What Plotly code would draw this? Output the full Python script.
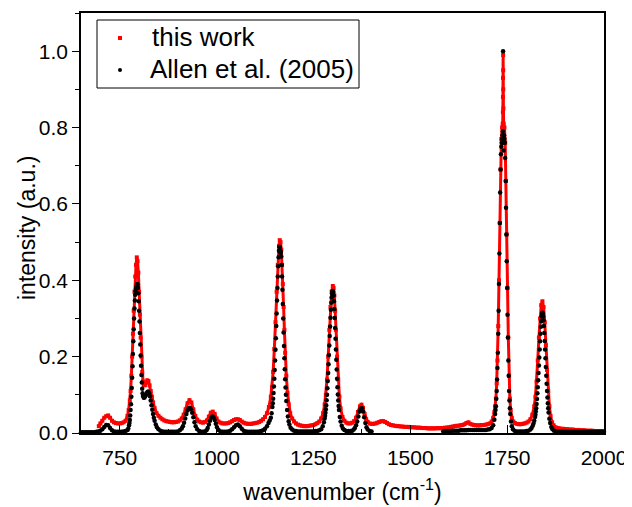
import plotly.graph_objects as go

# "this work" spectrum: (wavenumber cm^-1, normalised intensity)
this_work = [
    (696, 0.018), (700, 0.025), (705, 0.032), (710, 0.040), (715, 0.044), (720, 0.046), (725, 0.040),
    (730, 0.032), (735, 0.028), (740, 0.026), (745, 0.025), (750, 0.025), (755, 0.026), (760, 0.028),
    (765, 0.032), (770, 0.045), (773, 0.060), (776, 0.085), (778, 0.110), (780, 0.150), (782, 0.200),
    (784, 0.260), (786, 0.320), (788, 0.370), (790, 0.410), (792, 0.440), (794, 0.460), (796, 0.450),
    (798, 0.420), (800, 0.370), (802, 0.310), (804, 0.250), (806, 0.200), (808, 0.160), (810, 0.135),
    (812, 0.125), (815, 0.125), (818, 0.132), (821, 0.138), (824, 0.136), (827, 0.125), (830, 0.110),
    (833, 0.095), (836, 0.080), (840, 0.065), (845, 0.052), (850, 0.045), (855, 0.040), (860, 0.036),
    (865, 0.033), (870, 0.031), (875, 0.030), (880, 0.029), (885, 0.028), (890, 0.028), (895, 0.029),
    (900, 0.030), (905, 0.033), (910, 0.038), (915, 0.048), (920, 0.062), (925, 0.078), (930, 0.086),
    (935, 0.080), (940, 0.062), (945, 0.045), (950, 0.035), (955, 0.030), (960, 0.028), (965, 0.027),
    (970, 0.029), (975, 0.033), (980, 0.043), (985, 0.053), (990, 0.056), (995, 0.050), (1000, 0.038),
    (1005, 0.030), (1010, 0.027), (1015, 0.025), (1020, 0.025), (1025, 0.025), (1030, 0.026),
    (1035, 0.028), (1040, 0.031), (1045, 0.034), (1050, 0.036), (1055, 0.036), (1060, 0.034),
    (1065, 0.030), (1070, 0.027), (1075, 0.025), (1080, 0.024), (1085, 0.024), (1090, 0.024),
    (1095, 0.025), (1100, 0.026), (1105, 0.027), (1110, 0.029), (1115, 0.032), (1120, 0.036),
    (1125, 0.042), (1130, 0.052), (1135, 0.068), (1140, 0.095), (1143, 0.120), (1146, 0.160),
    (1149, 0.220), (1152, 0.290), (1155, 0.370), (1158, 0.440), (1161, 0.490), (1163, 0.505),
    (1165, 0.500), (1167, 0.480), (1169, 0.440), (1171, 0.390), (1173, 0.330), (1175, 0.270),
    (1177, 0.210), (1180, 0.150), (1183, 0.105), (1186, 0.075), (1190, 0.052), (1195, 0.038),
    (1200, 0.030), (1205, 0.025), (1210, 0.022), (1215, 0.020), (1220, 0.019), (1225, 0.018),
    (1230, 0.018), (1235, 0.018), (1240, 0.019), (1245, 0.020), (1250, 0.021), (1255, 0.023),
    (1260, 0.026), (1265, 0.030), (1270, 0.038), (1275, 0.052), (1279, 0.075), (1282, 0.100),
    (1285, 0.140), (1288, 0.200), (1291, 0.270), (1294, 0.330), (1297, 0.370), (1300, 0.385),
    (1302, 0.380), (1304, 0.360), (1306, 0.320), (1308, 0.270), (1311, 0.200), (1314, 0.140),
    (1317, 0.095), (1320, 0.065), (1325, 0.042), (1330, 0.032), (1335, 0.027), (1340, 0.025),
    (1345, 0.025), (1350, 0.027), (1355, 0.031), (1360, 0.040), (1365, 0.055), (1370, 0.070),
    (1374, 0.074), (1378, 0.066), (1382, 0.050), (1386, 0.036), (1390, 0.029), (1395, 0.025),
    (1400, 0.024), (1405, 0.024), (1410, 0.025), (1415, 0.027), (1420, 0.029), (1425, 0.031),
    (1430, 0.031), (1435, 0.029), (1440, 0.026), (1445, 0.023), (1450, 0.021), (1455, 0.020),
    (1460, 0.019), (1465, 0.018), (1470, 0.018), (1475, 0.017), (1480, 0.017), (1485, 0.016),
    (1490, 0.016), (1495, 0.016), (1500, 0.015), (1505, 0.015), (1510, 0.015), (1515, 0.014),
    (1520, 0.014), (1525, 0.014), (1530, 0.013), (1535, 0.013), (1540, 0.013), (1545, 0.012),
    (1550, 0.012), (1555, 0.012), (1560, 0.012), (1565, 0.012), (1570, 0.013), (1575, 0.012),
    (1580, 0.013), (1585, 0.013), (1590, 0.014), (1595, 0.014), (1600, 0.015), (1605, 0.016),
    (1610, 0.017), (1615, 0.018), (1620, 0.019), (1625, 0.019), (1630, 0.020), (1635, 0.021),
    (1640, 0.023), (1645, 0.026), (1650, 0.028), (1655, 0.024), (1660, 0.022), (1665, 0.021),
    (1670, 0.020), (1675, 0.020), (1680, 0.020), (1685, 0.021), (1690, 0.021), (1695, 0.022),
    (1700, 0.023), (1705, 0.025), (1710, 0.030), (1714, 0.040), (1717, 0.055), (1719, 0.070),
    (1721, 0.090), (1723, 0.130), (1725, 0.190), (1727, 0.280), (1729, 0.400), (1731, 0.550),
    (1733, 0.690), (1735, 0.770), (1737, 0.800), (1738.5, 0.810), (1739, 0.840), (1739.2, 0.880),
    (1739.4, 0.930), (1739.6, 0.990), (1739.8, 0.950), (1740, 0.900), (1740.3, 0.850), (1741, 0.810),
    (1743, 0.800), (1745, 0.760), (1747, 0.660), (1749, 0.520), (1751, 0.380), (1753, 0.250),
    (1755, 0.150), (1757, 0.090), (1759, 0.060), (1762, 0.040), (1766, 0.030), (1770, 0.026),
    (1775, 0.024), (1780, 0.023), (1785, 0.023), (1790, 0.024), (1795, 0.025), (1800, 0.027),
    (1805, 0.030), (1810, 0.036), (1815, 0.048), (1820, 0.070), (1823, 0.095), (1826, 0.135),
    (1829, 0.190), (1832, 0.250), (1835, 0.300), (1838, 0.335), (1841, 0.345), (1844, 0.330),
    (1847, 0.290), (1850, 0.230), (1853, 0.165), (1856, 0.110), (1859, 0.070), (1862, 0.045),
    (1866, 0.028), (1870, 0.020), (1875, 0.015), (1880, 0.013), (1885, 0.012), (1890, 0.011),
    (1895, 0.011), (1900, 0.010), (1905, 0.010), (1910, 0.009), (1915, 0.009), (1920, 0.009),
    (1925, 0.008), (1930, 0.008), (1935, 0.008), (1940, 0.007), (1945, 0.007), (1950, 0.007),
    (1955, 0.006), (1960, 0.006), (1965, 0.006), (1970, 0.006), (1975, 0.005), (1980, 0.005),
    (1985, 0.005), (1990, 0.005), (1995, 0.005), (2000, 0.005),
]

# Allen et al. (2005) spectrum (no data between ~1400 and ~1585 cm^-1)
allen_2005 = [
    (650, 0.002), (655, 0.002), (660, 0.002), (665, 0.002), (670, 0.002), (675, 0.002), (680, 0.002),
    (685, 0.002), (690, 0.003), (695, 0.004), (700, 0.006), (705, 0.010), (710, 0.016), (715, 0.021),
    (720, 0.020), (725, 0.013), (730, 0.007), (735, 0.004), (740, 0.003), (745, 0.003), (750, 0.003),
    (755, 0.003), (760, 0.004), (765, 0.005), (770, 0.008), (772, 0.012), (774, 0.020), (775, 0.026),
    (776, 0.034), (777, 0.046), (778, 0.060), (779, 0.075), (780, 0.095), (781, 0.118), (782, 0.145),
    (783, 0.175), (784, 0.207), (785, 0.240), (786, 0.272), (787, 0.300), (788, 0.326), (789, 0.347),
    (790, 0.362), (791, 0.372), (792, 0.378), (793, 0.382), (794, 0.386), (795, 0.390), (796, 0.388),
    (797, 0.380), (798, 0.366), (799, 0.345), (800, 0.320), (801, 0.292), (802, 0.262), (803, 0.232),
    (804, 0.203), (805, 0.176), (806, 0.152), (807, 0.132), (808, 0.116), (809, 0.104), (810, 0.097),
    (812, 0.092), (814, 0.093), (816, 0.097), (818, 0.101), (820, 0.105), (822, 0.108), (824, 0.108),
    (826, 0.104), (828, 0.096), (830, 0.085), (832, 0.073), (834, 0.061), (836, 0.050), (838, 0.040),
    (840, 0.032), (843, 0.022), (846, 0.015), (850, 0.010), (855, 0.006), (860, 0.004), (865, 0.003),
    (870, 0.003), (875, 0.003), (880, 0.003), (885, 0.003), (890, 0.003), (895, 0.003), (900, 0.004),
    (905, 0.007), (910, 0.012), (913, 0.018), (916, 0.027), (919, 0.038), (922, 0.050), (925, 0.059),
    (928, 0.065), (931, 0.066), (934, 0.062), (937, 0.053), (940, 0.041), (943, 0.028), (946, 0.018),
    (950, 0.010), (955, 0.005), (960, 0.003), (965, 0.003), (970, 0.004), (974, 0.007), (977, 0.013),
    (980, 0.022), (983, 0.032), (986, 0.040), (989, 0.043), (992, 0.041), (995, 0.034), (998, 0.024),
    (1001, 0.015), (1005, 0.008), (1010, 0.004), (1015, 0.003), (1020, 0.003), (1025, 0.003),
    (1030, 0.004), (1035, 0.006), (1040, 0.010), (1045, 0.015), (1050, 0.020), (1055, 0.022),
    (1060, 0.018), (1065, 0.011), (1070, 0.006), (1075, 0.004), (1080, 0.003), (1085, 0.003),
    (1090, 0.003), (1095, 0.003), (1100, 0.003), (1105, 0.003), (1110, 0.004), (1115, 0.005),
    (1120, 0.007), (1125, 0.011), (1130, 0.018), (1134, 0.026), (1137, 0.033), (1140, 0.040),
    (1142, 0.052), (1144, 0.068), (1145, 0.078), (1146, 0.090), (1147, 0.105), (1148, 0.122),
    (1149, 0.142), (1150, 0.165), (1151, 0.190), (1152, 0.218), (1153, 0.248), (1154, 0.280),
    (1155, 0.313), (1156, 0.347), (1157, 0.380), (1158, 0.410), (1159, 0.437), (1160, 0.460),
    (1161, 0.477), (1162, 0.487), (1163, 0.488), (1164, 0.478), (1165, 0.470), (1166, 0.474),
    (1167, 0.462), (1168, 0.440), (1169, 0.410), (1170, 0.375), (1171, 0.338), (1172, 0.300),
    (1173, 0.263), (1174, 0.228), (1175, 0.196), (1176, 0.167), (1177, 0.141), (1178, 0.119),
    (1179, 0.100), (1180, 0.084), (1182, 0.060), (1184, 0.043), (1186, 0.031), (1188, 0.022),
    (1191, 0.014), (1195, 0.009), (1200, 0.006), (1205, 0.005), (1210, 0.004), (1215, 0.004),
    (1220, 0.004), (1225, 0.004), (1230, 0.004), (1235, 0.004), (1240, 0.004), (1245, 0.004),
    (1250, 0.004), (1255, 0.005), (1260, 0.005), (1265, 0.007), (1270, 0.010), (1274, 0.018),
    (1277, 0.028), (1279, 0.038), (1280, 0.045), (1281, 0.053), (1282, 0.062), (1283, 0.073),
    (1284, 0.086), (1285, 0.100), (1286, 0.117), (1287, 0.136), (1288, 0.157), (1289, 0.180),
    (1290, 0.204), (1291, 0.229), (1292, 0.254), (1293, 0.279), (1294, 0.302), (1295, 0.323),
    (1296, 0.341), (1297, 0.355), (1298, 0.365), (1299, 0.371), (1300, 0.372), (1301, 0.369),
    (1302, 0.360), (1303, 0.345), (1304, 0.325), (1305, 0.301), (1306, 0.275), (1307, 0.247),
    (1308, 0.219), (1309, 0.192), (1310, 0.166), (1311, 0.142), (1312, 0.120), (1313, 0.101),
    (1314, 0.085), (1315, 0.071), (1316, 0.060), (1318, 0.042), (1320, 0.030), (1323, 0.019),
    (1326, 0.012), (1330, 0.008), (1335, 0.005), (1340, 0.005), (1345, 0.005), (1350, 0.006),
    (1354, 0.009), (1357, 0.013), (1360, 0.020), (1363, 0.030), (1366, 0.043), (1369, 0.056),
    (1372, 0.064), (1375, 0.065), (1378, 0.056), (1381, 0.041), (1384, 0.026), (1387, 0.015),
    (1390, 0.009), (1395, 0.005), (1400, 0.004),
    (1585, 0.004), (1590, 0.005), (1595, 0.005), (1600, 0.005), (1605, 0.005), (1610, 0.006),
    (1615, 0.006), (1620, 0.006), (1625, 0.006), (1630, 0.007), (1635, 0.007), (1640, 0.007),
    (1645, 0.007), (1650, 0.008), (1655, 0.008), (1660, 0.008), (1665, 0.008), (1670, 0.008),
    (1675, 0.008), (1680, 0.008), (1685, 0.008), (1690, 0.008), (1695, 0.008), (1700, 0.009),
    (1705, 0.010), (1710, 0.013), (1714, 0.020), (1717, 0.035), (1719, 0.050), (1720, 0.060),
    (1721, 0.070), (1722, 0.090), (1723, 0.110), (1724, 0.140), (1725, 0.170), (1726, 0.210),
    (1727, 0.260), (1728, 0.320), (1729, 0.390), (1730, 0.470), (1731, 0.550), (1732, 0.630),
    (1733, 0.690), (1734, 0.730), (1735, 0.750), (1736, 0.760), (1737, 0.770), (1738, 0.780),
    (1739, 0.790), (1739.5, 1.000), (1740, 0.760), (1741, 0.740), (1742, 0.780), (1743, 0.770),
    (1744, 0.760), (1745, 0.720), (1746, 0.660), (1747, 0.590), (1748, 0.520), (1749, 0.450),
    (1750, 0.380), (1751, 0.310), (1752, 0.250), (1753, 0.190), (1754, 0.150), (1755, 0.110),
    (1756, 0.085), (1757, 0.065), (1758, 0.050), (1760, 0.030), (1762, 0.018), (1765, 0.010),
    (1769, 0.006), (1774, 0.004), (1780, 0.004), (1785, 0.004), (1790, 0.004), (1795, 0.004),
    (1800, 0.005), (1805, 0.006), (1810, 0.009), (1813, 0.013), (1816, 0.019), (1818, 0.025),
    (1820, 0.032), (1822, 0.042), (1823, 0.048), (1824, 0.056), (1825, 0.065), (1826, 0.076),
    (1827, 0.089), (1828, 0.104), (1829, 0.120), (1830, 0.138), (1831, 0.157), (1832, 0.177),
    (1833, 0.198), (1834, 0.219), (1835, 0.240), (1836, 0.260), (1837, 0.278), (1838, 0.293),
    (1839, 0.305), (1840, 0.312), (1841, 0.315), (1842, 0.313), (1843, 0.306), (1844, 0.295),
    (1845, 0.280), (1846, 0.262), (1847, 0.241), (1848, 0.219), (1849, 0.196), (1850, 0.173),
    (1851, 0.150), (1852, 0.129), (1853, 0.110), (1854, 0.093), (1855, 0.078), (1856, 0.065),
    (1857, 0.054), (1859, 0.037), (1861, 0.026), (1864, 0.016), (1867, 0.010), (1871, 0.006),
    (1876, 0.004), (1880, 0.003), (1885, 0.003), (1890, 0.003), (1895, 0.003), (1900, 0.003),
    (1905, 0.003), (1910, 0.003), (1915, 0.003), (1920, 0.003), (1925, 0.003), (1930, 0.003),
    (1935, 0.003), (1940, 0.003), (1945, 0.003), (1950, 0.003), (1955, 0.003), (1960, 0.003),
    (1965, 0.003), (1970, 0.003), (1975, 0.003), (1980, 0.003), (1985, 0.003), (1990, 0.003),
    (1995, 0.003), (2000, 0.003),
]

x_tick_values = [750, 1000, 1250, 1500, 1750, 2000]
y_tick_values = [0.0, 0.2, 0.4, 0.6, 0.8, 1.0]
y_tick_labels = ["0.0", "0.2", "0.4", "0.6", "0.8", "1.0"]

series_names = ["this work", "Allen et al. (2005)"]
series_colors = ["#ff0000", "#000000"]
x_title = "wavenumber (cm<sup>-1</sup>)"
y_title = "intensity (a.u.)"

FONT = "Arial, Liberation Sans, sans-serif"

tw_x = [p[0] for p in this_work]
tw_y = [p[1] for p in this_work]
al_x = [p[0] for p in allen_2005]
al_y = [p[1] for p in allen_2005]

fig = go.Figure()
# dense red scan drawn as a thick band plus square markers
fig.add_trace(go.Scatter(
    x=tw_x, y=tw_y, mode="lines", showlegend=False, hoverinfo="skip",
    line=dict(color=series_colors[0], width=3),
    cliponaxis=False,
))
fig.add_trace(go.Scatter(
    x=tw_x, y=tw_y, mode="markers", name=series_names[0], showlegend=False,
    marker=dict(symbol="square", size=4, color=series_colors[0]),
    cliponaxis=False,
))
fig.add_trace(go.Scatter(
    x=al_x, y=al_y, mode="markers", name=series_names[1], showlegend=False,
    marker=dict(symbol="circle", size=4.5, color=series_colors[1]),
    cliponaxis=False,
))

# --- legend box (drawn in paper coordinates to match the compact original) ---
PLOT_W, PLOT_H = 523.0, 420.0


def px_x(px):
    return (px - 81) / PLOT_W


def px_y(py):
    return (433 - py) / PLOT_H


shapes = [
    dict(type="rect", xref="paper", yref="paper",
         x0=px_x(97), x1=px_x(359), y0=px_y(88), y1=px_y(20),
         line=dict(color="black", width=1), fillcolor="white", layer="above"),
    dict(type="rect", xref="paper", yref="paper",
         x0=px_x(118), x1=px_x(122), y0=px_y(40), y1=px_y(36),
         line=dict(width=0), fillcolor=series_colors[0], layer="above"),
    dict(type="circle", xref="paper", yref="paper",
         x0=px_x(118), x1=px_x(122), y0=px_y(72), y1=px_y(68),
         line=dict(width=0), fillcolor=series_colors[1], layer="above"),
]
annotations = [
    dict(xref="paper", yref="paper", x=px_x(150), y=px_y(37), text=series_names[0],
         showarrow=False, xanchor="left", yanchor="middle",
         font=dict(family=FONT, size=26, color="black")),
    dict(xref="paper", yref="paper", x=px_x(148), y=px_y(69), text=series_names[1],
         showarrow=False, xanchor="left", yanchor="middle",
         font=dict(family=FONT, size=26, color="black")),
    # y-axis title, placed as in the original (close to the tick labels)
    dict(xref="paper", yref="paper", x=px_x(27), y=px_y(228), text=y_title,
         showarrow=False, xanchor="center", yanchor="middle", textangle=-90,
         font=dict(family=FONT, size=23, color="black")),
]

# the page adds an 8 px body margin, so the figure is 8 px smaller and margins shifted
fig.update_layout(
    width=624, height=499,
    margin=dict(l=73, r=28, t=5, b=74, autoexpand=False),
    paper_bgcolor="white", plot_bgcolor="white",
    font=dict(family=FONT, color="black", size=21),
    showlegend=False,
    shapes=shapes, annotations=annotations,
)
fig.update_xaxes(
    range=[650, 2000], tickvals=x_tick_values, ticktext=[str(v) for v in x_tick_values],
    ticks="inside", ticklen=8, tickwidth=1.2, tickcolor="black",
    minor=dict(ticks="inside", ticklen=4, tickwidth=1, tickcolor="black", dtick=125, tick0=625),
    showline=True, linecolor="black", linewidth=1.5, mirror=True,
    showgrid=False, zeroline=False, automargin=False,
    tickfont=dict(family=FONT, size=21), ticklabelstandoff=5,
    title=dict(text=x_title, font=dict(family=FONT, size=23), standoff=16),
)
fig.update_yaxes(
    range=[0, 1.1], tickvals=y_tick_values, ticktext=y_tick_labels,
    ticks="outside", ticklen=7, tickwidth=1.2, tickcolor="black",
    minor=dict(ticks="outside", ticklen=4, tickwidth=1, tickcolor="black", dtick=0.1, tick0=0),
    showline=True, linecolor="black", linewidth=1.5, mirror=True,
    showgrid=False, zeroline=False, automargin=False,
    tickfont=dict(family=FONT, size=21),
)

fig.write_html("out.html")
